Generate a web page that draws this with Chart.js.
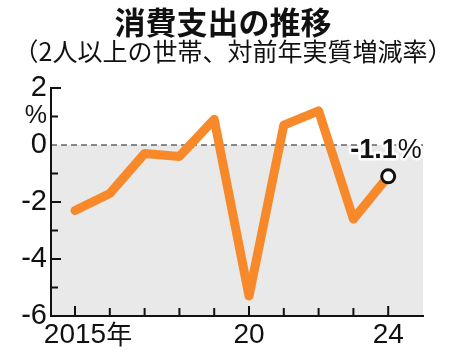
<!DOCTYPE html>
<html>
<head>
<meta charset="utf-8">
<script src="https://cdn.jsdelivr.net/npm/chart.js@4.4.1/dist/chart.umd.min.js"></script>
<style>
  body { margin: 0; background: #fff; }
  #wrap { position: relative; width: 450px; height: 358px; }
  #title { position: absolute; left: 0; width: 446px; top: 3px; text-align: center;
    font: bold 31px "Noto Sans CJK JP"; line-height: 36px; color: #111; }
  #sub { position: absolute; left: 0; width: 466px; top: 35px; text-align: center;
    font: 25px "Noto Sans CJK JP"; line-height: 30px; color: #111; }
  canvas { position: absolute; left: 0; top: 0; }
</style>
</head>
<body>
<div id="wrap">
  <canvas id="chart" width="450" height="358"></canvas>
  <div id="title">消費支出の推移</div>
  <div id="sub">（2人以上の世帯、対前年実質増減率）</div>
</div>
<script>
const years = [2015, 2016, 2017, 2018, 2019, 2020, 2021, 2022, 2023, 2024];
const changes = [-2.3, -1.7, -0.3, -0.4, 0.9, -5.3, 0.7, 1.2, -2.6, -1.1];
const labelYears = [2015, 2020, 2024];
const labelTexts = ['2015年', '20', '24'];
const lastLabel = '-1.1';

const ctx = document.getElementById('chart').getContext('2d');

// gray area below zero + dashed zero line
const backdrop = {
    id: 'backdrop',
    beforeDraw(chart) {
        const c = chart.ctx, a = chart.chartArea;
        const y0 = chart.scales.y.getPixelForValue(0);
        c.save();
        c.fillStyle = '#e9e9e9';
        c.fillRect(a.left, y0, a.right - a.left, a.bottom - y0);
        c.strokeStyle = '#666';
        c.lineWidth = 1.5;
        c.setLineDash([6, 4]);
        c.beginPath();
        c.moveTo(a.left, y0);
        c.lineTo(a.right, y0);
        c.stroke();
        c.restore();
    },
    beforeDatasetsDraw(chart) {
        // inner tick marks
        const c = chart.ctx, a = chart.chartArea;
        const xs = chart.scales.x, ys = chart.scales.y;
        c.save();
        c.strokeStyle = '#111';
        c.lineWidth = 2;
        c.beginPath();
        for (let v = -6; v <= 2; v++) {
            if (v === 0) continue;
            const y = ys.getPixelForValue(v);
            const len = v % 2 === 0 ? 10 : 7;
            c.moveTo(a.left, y);
            c.lineTo(a.left + len, y);
        }
        years.forEach(yr => {
            const x = xs.getPixelForValue(yr);
            const len = labelYears.includes(yr) ? 10 : 8;
            c.moveTo(x, a.bottom);
            c.lineTo(x, a.bottom - len);
        });
        c.stroke();
        c.restore();
    },
    afterDraw(chart) {
        const c = chart.ctx, a = chart.chartArea;
        const xs = chart.scales.x, ys = chart.scales.y;
        c.save();
        c.fillStyle = '#111';
        c.textBaseline = 'middle';
        c.font = '28px "Liberation Sans"';
        labelYears.forEach((yr, i) => {
            const x = xs.getPixelForValue(yr);
            const txt = labelTexts[i];
            const num = txt.replace('年', '');
            const w = c.measureText(num).width;
            c.textAlign = 'left';
            c.fillText(num, x - w / 2, a.bottom + 19);
            if (txt.endsWith('年')) {
                c.font = '26px "Noto Sans CJK JP"';
                c.fillText('年', x + w / 2, a.bottom + 18);
                c.font = '28px "Liberation Sans"';
            }
        });
        // last value annotation
        const n = years.length - 1;
        const px = xs.getPixelForValue(years[n]);
        const py = ys.getPixelForValue(changes[n]);
        c.font = 'bold 27px "Liberation Sans"';
        const w1 = c.measureText(lastLabel).width;
        const sx = px - 38;
        const ty = py - 26;
        c.lineJoin = 'round';
        c.strokeStyle = '#fff';
        c.lineWidth = 5;
        c.textAlign = 'left';
        c.strokeText(lastLabel, sx, ty);
        c.fillText(lastLabel, sx, ty);
        c.font = '27px "Liberation Sans"';
        c.strokeText('%', sx + w1 + 1, ty);
        c.fillText('%', sx + w1 + 1, ty);
        c.restore();
    }
};

const config = {
    type: 'line',
    data: {
        datasets: [{
            data: years.map((yr, i) => ({ x: yr, y: changes[i] })),
            borderColor: '#f7892a',
            borderWidth: 9,
            borderCapStyle: 'round',
            borderJoinStyle: 'round',
            tension: 0,
            pointRadius: years.map((yr, i) => i === years.length - 1 ? 6.5 : 0),
            pointBackgroundColor: '#fff',
            pointBorderColor: '#111',
            pointBorderWidth: 3
        }]
    },
    options: {
        responsive: false,
        animation: false,
        devicePixelRatio: 1,
        layout: {
            padding: { top: 88, right: 27, left: 0, bottom: 0 }
        },
        plugins: {
            legend: { display: false },
            tooltip: { enabled: false }
        },
        scales: {
            x: {
                type: 'linear',
                min: 2014.31,
                max: 2025,
                grid: { display: false },
                border: { display: true, color: '#111', width: 2 },
                ticks: { display: false },
                afterFit(scale) { scale.height = 42; }
            },
            y: {
                min: -6,
                max: 2,
                grid: { display: false, tickLength: 0 },
                border: { display: true, color: '#111', width: 2 },
                ticks: {
                    stepSize: 1,
                    autoSkip: false,
                    padding: 4,
                    color: '#111',
                    font: c => ({ family: 'Liberation Sans', size: c.tick && c.tick.value === 1 ? 25 : 29 }),
                    callback: v => v === 1 ? '%' : (v % 2 === 0 ? String(v) : '')
                },
                afterFit(scale) { scale.width = 51; }
            }
        }
    },
    plugins: [backdrop]
};

const chart = new Chart(ctx, config);
</script>
</body>
</html>
